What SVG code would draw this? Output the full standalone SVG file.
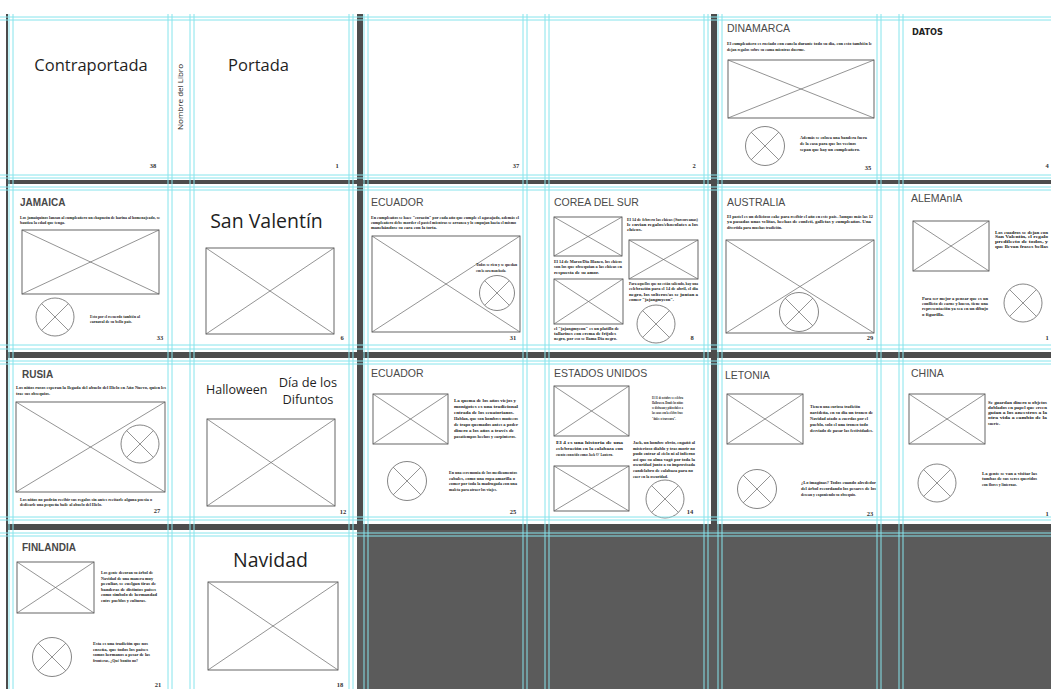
<svg xmlns="http://www.w3.org/2000/svg" width="1051" height="689" viewBox="0 0 1051 689">
<style>
.pg{fill:#ffffff}
.ph{fill:none;stroke:#555;stroke-width:0.9}
.xl{fill:none;stroke:#666;stroke-width:0.7}
.cc{fill:none;stroke:#666;stroke-width:0.8}
.big{font-family:"Open Sans","Liberation Sans",sans-serif;fill:#1f1f1f}
.t{font-family:"Liberation Sans",Arial,sans-serif;font-size:10.5px;fill:#4a4a4a}
.tb{font-family:"Liberation Sans",Arial,sans-serif;font-size:10px;font-weight:bold;fill:#484848}
.b{font-family:"Liberation Serif","Times New Roman",serif;font-size:4.6px;font-weight:bold;fill:#222}
.n{font-family:"Liberation Serif","Times New Roman",serif;font-size:6.5px;font-weight:bold;fill:#333;text-anchor:middle}
.g{stroke:#86e4ec;stroke-width:1;fill:none}
</style>
<rect x="0" y="0" width="1051" height="689" fill="#ffffff"/>
<rect x="6" y="14" width="1045" height="675" fill="#4c4c4c"/>
<rect x="357" y="530" width="694" height="159" fill="#5b5b5b"/>
<g id="spreads">
<rect class="pg" x="8" y="14" width="349" height="166"/>
<rect class="pg" x="363" y="14" width="348" height="166"/>
<rect class="pg" x="717" y="14" width="334" height="166"/>
<rect class="pg" x="8" y="184" width="349" height="168"/>
<rect class="pg" x="363" y="184" width="348" height="168"/>
<rect class="pg" x="717" y="184" width="334" height="168"/>
<rect class="pg" x="8" y="358" width="349" height="166"/>
<rect class="pg" x="363" y="358" width="348" height="166"/>
<rect class="pg" x="717" y="358" width="334" height="166"/>
<rect class="pg" x="8" y="530" width="349" height="159"/>
</g>

<g id="page-contraportada">
<text class="big" x="91" y="71" font-size="16.5" text-anchor="middle">Contraportada</text>
<text class="n" x="153" y="168">38</text>
</g>
<g id="spine">
<text class="big" transform="translate(183,97) rotate(-90)" font-size="6.8" text-anchor="middle" textLength="66" lengthAdjust="spacingAndGlyphs">Nombre del Libro</text>
</g>
<g id="page-portada">
<text class="big" x="258.5" y="71" font-size="16.5" text-anchor="middle">Portada</text>
<text class="n" x="337" y="168">1</text>
</g>
<g id="page-37"><text class="n" x="516" y="168">37</text></g>
<g id="page-2"><text class="n" x="694" y="168">2</text></g>

<g id="page-dinamarca">
<text class="t" x="727" y="32">DINAMARCA</text>
<text class="b" x="727" y="45" textLength="145" lengthAdjust="spacingAndGlyphs">El cumpleañero es rociado con canela durante todo su día, con esto también le</text>
<text class="b" x="727" y="51" textLength="78" lengthAdjust="spacingAndGlyphs">dejan regalos sobre su cama mientras duerme.</text>
<rect class="ph" x="728" y="60" width="146" height="58"/>
<path class="xl" d="M728,60 L874,118 M874,60 L728,118"/>
<circle class="cc" cx="765" cy="146" r="19.5"/>
<path class="xl" d="M751.2,132.2 L778.8,159.8 M778.8,132.2 L751.2,159.8"/>
<text class="b" x="800" y="139" textLength="67" lengthAdjust="spacingAndGlyphs">Además se coloca una bandera fuera</text>
<text class="b" x="800" y="145" textLength="56" lengthAdjust="spacingAndGlyphs">de la casa para que los vecinos</text>
<text class="b" x="800" y="151" textLength="60" lengthAdjust="spacingAndGlyphs">sepan que hay un cumpleañero.</text>
<text class="n" x="868" y="170">35</text>
</g>
<g id="page-datos">
<text x="912" y="35" font-family="DejaVu Sans,sans-serif" font-size="9.5" font-weight="bold" fill="#222" textLength="31" lengthAdjust="spacingAndGlyphs">DATOS</text>
<text class="n" x="1047" y="168">4</text>
</g>

<g id="page-jamaica">
<text class="tb" x="20" y="206">JAMAICA</text>
<text class="b" x="20" y="219" textLength="140" lengthAdjust="spacingAndGlyphs">Los jamaiquinos lanzan al cumpleañero un chapuzón de harina al homenajeado, se</text>
<text class="b" x="20" y="224" textLength="45" lengthAdjust="spacingAndGlyphs">bautiza la edad que tenga.</text>
<rect class="ph" x="22" y="230" width="137" height="64"/>
<path class="xl" d="M22,230 L159,294 M159,230 L22,294"/>
<circle class="cc" cx="55" cy="317" r="19"/>
<path class="xl" d="M41.6,303.6 L68.4,330.4 M68.4,303.6 L41.6,330.4"/>
<text class="b" x="90" y="318" textLength="50" lengthAdjust="spacingAndGlyphs">Esto por el recuerdo también al</text>
<text class="b" x="90" y="323" textLength="42" lengthAdjust="spacingAndGlyphs">carnaval de su bello país.</text>
<text class="n" x="160" y="340">33</text>
</g>
<g id="page-sanvalentin">
<text class="big" x="266.5" y="228" font-size="19.5" text-anchor="middle">San Valentín</text>
<rect class="ph" x="206" y="248" width="128" height="86"/>
<path class="xl" d="M206,248 L334,334 M334,248 L206,334"/>
<text class="n" x="342" y="340">6</text>
</g>
<g id="page-ecuador-31">
<text class="t" x="371" y="206">ECUADOR</text>
<text class="b" x="371" y="219" textLength="148" lengthAdjust="spacingAndGlyphs">En cumpleaños se hace "corazón" por cada año que cumple el agasajado, además el</text>
<text class="b" x="371" y="224" textLength="145" lengthAdjust="spacingAndGlyphs">cumpleañero debe morder el pastel mientras se arranca y lo empujan hacia el mismo</text>
<text class="b" x="371" y="229" textLength="66" lengthAdjust="spacingAndGlyphs">manchándose su cara con la torta.</text>
<rect class="ph" x="372" y="236" width="148" height="96"/>
<path class="xl" d="M372,236 L520,332 M520,236 L372,332"/>
<text class="b" x="476" y="266" textLength="41" lengthAdjust="spacingAndGlyphs">Todos se ríen y se quedan</text>
<text class="b" x="476" y="272" textLength="30" lengthAdjust="spacingAndGlyphs">con la cara manchada.</text>
<circle class="cc" cx="497" cy="293" r="17.5"/>
<path class="xl" d="M484.6,280.6 L509.4,305.4 M509.4,280.6 L484.6,305.4"/>
<text class="n" x="513" y="340">31</text>
</g>
<g id="page-corea">
<text class="t" x="554" y="206">COREA DEL SUR</text>
<rect class="ph" x="554" y="217" width="68" height="39"/>
<path class="xl" d="M554,217 L622,256 M622,217 L554,256"/>
<text class="b" x="627" y="221" textLength="71" lengthAdjust="spacingAndGlyphs">El 14 de febrero las chicas (Surcoreanas)</text>
<text class="b" x="627" y="226" textLength="71" lengthAdjust="spacingAndGlyphs">le envían regalos/chocolates a los</text>
<text class="b" x="627" y="231" textLength="15" lengthAdjust="spacingAndGlyphs">chicos.</text>
<rect class="ph" x="629" y="240" width="69" height="39"/>
<path class="xl" d="M629,240 L698,279 M698,240 L629,279"/>
<text class="b" x="554" y="263" textLength="68" lengthAdjust="spacingAndGlyphs">El 14 de Marzo/Día Blanco, los chicos</text>
<text class="b" x="554" y="268" textLength="68" lengthAdjust="spacingAndGlyphs">son los que obsequian a las chicas en</text>
<text class="b" x="554" y="274" textLength="45" lengthAdjust="spacingAndGlyphs">respuesta de su amor.</text>
<rect class="ph" x="554" y="279" width="69" height="45"/>
<path class="xl" d="M554,279 L623,324 M623,279 L554,324"/>
<text class="b" x="629" y="285" textLength="69" lengthAdjust="spacingAndGlyphs">Para aquellos que no están saliendo, hay una</text>
<text class="b" x="629" y="290" textLength="69" lengthAdjust="spacingAndGlyphs">celebración para el 14 de abril, el día</text>
<text class="b" x="629" y="296" textLength="69" lengthAdjust="spacingAndGlyphs">negro, los solteros/as se juntan a</text>
<text class="b" x="629" y="301" textLength="45" lengthAdjust="spacingAndGlyphs">comer "jajangmyeon".</text>
<circle class="cc" cx="656" cy="324" r="19"/>
<path class="xl" d="M642.6,310.6 L669.4,337.4 M669.4,310.6 L642.6,337.4"/>
<text class="b" x="554" y="330" textLength="65" lengthAdjust="spacingAndGlyphs">el "jajangmyeon" es un platillo de</text>
<text class="b" x="554" y="335" textLength="62" lengthAdjust="spacingAndGlyphs">tallarines con crema de frijoles</text>
<text class="b" x="554" y="340" textLength="63" lengthAdjust="spacingAndGlyphs">negro, por eso se llama Día negro.</text>
<text class="n" x="692" y="340">8</text>
</g>
<g id="page-australia">
<text class="t" x="727" y="206">AUSTRALIA</text>
<text class="b" x="727" y="218" textLength="146" lengthAdjust="spacingAndGlyphs">El pastel es un delicioso cake para recibir el año en este país. Aunque más las 12</text>
<text class="b" x="727" y="223" textLength="144" lengthAdjust="spacingAndGlyphs">ya pasadas unas velitas, hechas de confeti, galletas y cumpleaños. Una</text>
<text class="b" x="727" y="229" textLength="55" lengthAdjust="spacingAndGlyphs">divertida para muchas tradición.</text>
<rect class="ph" x="726" y="240" width="148" height="93"/>
<path class="xl" d="M726,240 L874,333 M874,240 L726,333"/>
<circle class="cc" cx="799" cy="312" r="19.5"/>
<path class="xl" d="M785.2,298.2 L812.8,325.8 M812.8,298.2 L785.2,325.8"/>
<text class="n" x="870" y="340">29</text>
</g>
<g id="page-alemania">
<text class="t" x="911" y="202">ALEMAnIA</text>
<rect class="ph" x="913" y="221" width="76" height="50"/>
<path class="xl" d="M913,221 L989,271 M989,221 L913,271"/>
<text class="b" x="995" y="234" textLength="53" lengthAdjust="spacingAndGlyphs">Los cuadros se dejan con</text>
<text class="b" x="995" y="238" textLength="53" lengthAdjust="spacingAndGlyphs">San Valentín, el regalo</text>
<text class="b" x="995" y="243" textLength="53" lengthAdjust="spacingAndGlyphs">predilecto de todos, y</text>
<text class="b" x="995" y="248" textLength="53" lengthAdjust="spacingAndGlyphs">que llevan frases bellas</text>
<text class="b" x="922" y="300" textLength="66" lengthAdjust="spacingAndGlyphs">Para ser mejor a pensar que es un</text>
<text class="b" x="922" y="305" textLength="66" lengthAdjust="spacingAndGlyphs">conflicto de carne y hueso, tiene una</text>
<text class="b" x="922" y="310" textLength="66" lengthAdjust="spacingAndGlyphs">representación ya sea en un dibujo</text>
<text class="b" x="922" y="316" textLength="22" lengthAdjust="spacingAndGlyphs">o figurilla.</text>
<circle class="cc" cx="1023" cy="303" r="19"/>
<path class="xl" d="M1009.6,289.6 L1036.4,316.4 M1036.4,289.6 L1009.6,316.4"/>
<text class="n" x="1047" y="340">1</text>
</g>

<g id="page-rusia">
<text class="tb" x="22" y="378">RUSIA</text>
<text class="b" x="16" y="389" textLength="150" lengthAdjust="spacingAndGlyphs">Los niños rusos esperan la llegada del abuelo del Hielo en Año Nuevo, quien les</text>
<text class="b" x="16" y="395" textLength="34" lengthAdjust="spacingAndGlyphs">trae sus obsequios.</text>
<rect class="ph" x="16" y="402" width="149" height="90"/>
<path class="xl" d="M16,402 L165,492 M165,402 L16,492"/>
<circle class="cc" cx="140" cy="444" r="19"/>
<path class="xl" d="M126.6,430.6 L153.4,457.4 M153.4,430.6 L126.6,457.4"/>
<text class="b" x="20" y="501" textLength="132" lengthAdjust="spacingAndGlyphs">Los niños no podrán recibir sus regalos sin antes recitarle alguna poesía o</text>
<text class="b" x="20" y="506" textLength="82" lengthAdjust="spacingAndGlyphs">dedicarle una pequeña baile al abuelo del Hielo.</text>
<text class="n" x="157" y="513">27</text>
</g>
<g id="page-halloween">
<text class="big" x="206" y="394" font-size="12.5">Halloween</text>
<text class="big" x="308" y="387" font-size="12.8" text-anchor="middle">Día de los</text>
<text class="big" x="308" y="404" font-size="12.8" text-anchor="middle">Difuntos</text>
<rect class="ph" x="207" y="419" width="128" height="87"/>
<path class="xl" d="M207,419 L335,506 M335,419 L207,506"/>
<text class="n" x="343" y="514">12</text>
</g>
<g id="page-ecuador-25">
<text class="t" x="371" y="377">ECUADOR</text>
<rect class="ph" x="373" y="394" width="75" height="50"/>
<path class="xl" d="M373,394 L448,444 M448,394 L373,444"/>
<text class="b" x="454" y="402" textLength="62" lengthAdjust="spacingAndGlyphs">La quema de los años viejos y</text>
<text class="b" x="454" y="408" textLength="64" lengthAdjust="spacingAndGlyphs">monigotes es una tradicional</text>
<text class="b" x="454" y="414" textLength="60" lengthAdjust="spacingAndGlyphs">entrada de los ecuatorianos.</text>
<text class="b" x="454" y="420" textLength="64" lengthAdjust="spacingAndGlyphs">Hablan, que son hombres muñecos</text>
<text class="b" x="454" y="426" textLength="64" lengthAdjust="spacingAndGlyphs">de trapo quemados antes a poder</text>
<text class="b" x="454" y="432" textLength="60" lengthAdjust="spacingAndGlyphs">dinero a los años a través de</text>
<text class="b" x="454" y="438" textLength="62" lengthAdjust="spacingAndGlyphs">pasatiempos hechos y carpinteros.</text>
<circle class="cc" cx="407" cy="481" r="19.5"/>
<path class="xl" d="M393.2,467.2 L420.8,494.8 M420.8,467.2 L393.2,494.8"/>
<text class="b" x="449" y="474" textLength="68" lengthAdjust="spacingAndGlyphs">En una ceremonia de los medicamentos</text>
<text class="b" x="449" y="480" textLength="66" lengthAdjust="spacingAndGlyphs">cabales, como una ropa amarilla o</text>
<text class="b" x="449" y="485" textLength="68" lengthAdjust="spacingAndGlyphs">comer por toda la madrugada con una</text>
<text class="b" x="449" y="491" textLength="48" lengthAdjust="spacingAndGlyphs">maleta para atraer los viajes.</text>
<text class="n" x="513" y="514">25</text>
</g>
<g id="page-eeuu">
<text class="t" x="554" y="377">ESTADOS UNIDOS</text>
<rect class="ph" x="554" y="386" width="75" height="50"/>
<path class="xl" d="M554,386 L629,436 M629,386 L554,436"/>
<text class="b" x="652" y="399" textLength="31" lengthAdjust="spacingAndGlyphs">El 31 de octubre se celebra</text>
<text class="b" x="652" y="404" textLength="31" lengthAdjust="spacingAndGlyphs">Halloween. Donde los niños</text>
<text class="b" x="652" y="409" textLength="31" lengthAdjust="spacingAndGlyphs">se disfrazan y piden dulces a</text>
<text class="b" x="652" y="414" textLength="31" lengthAdjust="spacingAndGlyphs">las casas con la célebre frase</text>
<text class="b" x="652" y="420" textLength="24" lengthAdjust="spacingAndGlyphs">"dulce o travesura".</text>
<text class="b" x="556" y="444" textLength="67" lengthAdjust="spacingAndGlyphs">El 4 es una historia de una</text>
<text class="b" x="556" y="450" textLength="67" lengthAdjust="spacingAndGlyphs">celebración en la calabaza con</text>
<text class="b" x="556" y="456" textLength="57" lengthAdjust="spacingAndGlyphs">cuento conocido como Jack O' Lantern.</text>
<rect class="ph" x="554" y="466" width="75" height="45"/>
<path class="xl" d="M554,466 L629,511 M629,466 L554,511"/>
<text class="b" x="633" y="444" textLength="62" lengthAdjust="spacingAndGlyphs">Jack, un hombre obvio, engañó al</text>
<text class="b" x="633" y="450" textLength="62" lengthAdjust="spacingAndGlyphs">misterioso diablo y tras morir no</text>
<text class="b" x="633" y="455" textLength="62" lengthAdjust="spacingAndGlyphs">pudo entrar al cielo ni al infierno</text>
<text class="b" x="633" y="461" textLength="62" lengthAdjust="spacingAndGlyphs">así que su alma vagó por toda la</text>
<text class="b" x="633" y="466" textLength="62" lengthAdjust="spacingAndGlyphs">oscuridad junto a su improvisada</text>
<text class="b" x="633" y="472" textLength="60" lengthAdjust="spacingAndGlyphs">candelabro de calabaza para no</text>
<text class="b" x="633" y="478" textLength="35" lengthAdjust="spacingAndGlyphs">caer en la oscuridad.</text>
<circle class="cc" cx="665" cy="499" r="19"/>
<path class="xl" d="M651.6,485.6 L678.4,512.4 M678.4,485.6 L651.6,512.4"/>
<text class="n" x="690" y="514">14</text>
</g>
<g id="page-letonia">
<text class="t" x="725" y="379">LETONIA</text>
<rect class="ph" x="727" y="394" width="76" height="50"/>
<path class="xl" d="M727,394 L803,444 M803,394 L727,444"/>
<text class="b" x="810" y="408" textLength="50" lengthAdjust="spacingAndGlyphs">Tienen una curiosa tradición</text>
<text class="b" x="810" y="414" textLength="63" lengthAdjust="spacingAndGlyphs">navideña, en su día un tronco de</text>
<text class="b" x="810" y="420" textLength="58" lengthAdjust="spacingAndGlyphs">Navidad atado a cuerdas por el</text>
<text class="b" x="810" y="426" textLength="58" lengthAdjust="spacingAndGlyphs">pueblo, solo el una tronco todo</text>
<text class="b" x="810" y="432" textLength="63" lengthAdjust="spacingAndGlyphs">desviado de pasar las festividades.</text>
<circle class="cc" cx="757" cy="489" r="19.5"/>
<path class="xl" d="M743.2,475.2 L770.8,502.8 M770.8,475.2 L743.2,502.8"/>
<text class="b" x="801" y="484" textLength="75" lengthAdjust="spacingAndGlyphs">¿Lo imaginas? Todos cuando alrededor</text>
<text class="b" x="801" y="490" textLength="75" lengthAdjust="spacingAndGlyphs">del árbol recordando los pesares de los</text>
<text class="b" x="801" y="496" textLength="55" lengthAdjust="spacingAndGlyphs">desean y exponiendo su obsequio.</text>
<text class="n" x="870" y="516">23</text>
</g>
<g id="page-china">
<text class="t" x="911" y="377">CHINA</text>
<rect class="ph" x="909" y="394" width="76" height="50"/>
<path class="xl" d="M909,394 L985,444 M985,394 L909,444"/>
<text class="b" x="988" y="404" textLength="59" lengthAdjust="spacingAndGlyphs">Se guardan dinero u objetos</text>
<text class="b" x="988" y="409" textLength="59" lengthAdjust="spacingAndGlyphs">doblados en papel que creen</text>
<text class="b" x="988" y="414" textLength="59" lengthAdjust="spacingAndGlyphs">guían a los ancestros a la</text>
<text class="b" x="988" y="419" textLength="59" lengthAdjust="spacingAndGlyphs">otra vida a cambio de la</text>
<text class="b" x="988" y="425" textLength="12" lengthAdjust="spacingAndGlyphs">suerte.</text>
<circle class="cc" cx="937" cy="483" r="19"/>
<path class="xl" d="M923.6,469.6 L950.4,496.4 M950.4,469.6 L923.6,496.4"/>
<text class="b" x="982" y="475" textLength="55" lengthAdjust="spacingAndGlyphs">La gente se van a visitar las</text>
<text class="b" x="982" y="480" textLength="55" lengthAdjust="spacingAndGlyphs">tumbas de sus seres queridos</text>
<text class="b" x="982" y="486" textLength="35" lengthAdjust="spacingAndGlyphs">con flores y linternas.</text>
<text class="n" x="1047" y="516">1</text>
</g>

<g id="page-finlandia">
<text class="tb" x="22" y="551">FINLANDIA</text>
<rect class="ph" x="17" y="562" width="77" height="51"/>
<path class="xl" d="M17,562 L94,613 M94,562 L17,613"/>
<text class="b" x="101" y="574" textLength="52" lengthAdjust="spacingAndGlyphs">Los gente decoran su árbol de</text>
<text class="b" x="101" y="580" textLength="52" lengthAdjust="spacingAndGlyphs">Navidad de una manera muy</text>
<text class="b" x="101" y="585" textLength="55" lengthAdjust="spacingAndGlyphs">peculiar, se cuelgan tiras de</text>
<text class="b" x="101" y="591" textLength="55" lengthAdjust="spacingAndGlyphs">banderas de distintos países</text>
<text class="b" x="101" y="596" textLength="56" lengthAdjust="spacingAndGlyphs">como símbolo de hermandad</text>
<text class="b" x="101" y="602" textLength="45" lengthAdjust="spacingAndGlyphs">entre pueblos y culturas.</text>
<circle class="cc" cx="52" cy="657" r="19.5"/>
<path class="xl" d="M38.2,643.2 L65.8,670.8 M65.8,643.2 L38.2,670.8"/>
<text class="b" x="93" y="645" textLength="55" lengthAdjust="spacingAndGlyphs">Esta es una tradición que nos</text>
<text class="b" x="93" y="651" textLength="55" lengthAdjust="spacingAndGlyphs">enseña, que todos los países</text>
<text class="b" x="93" y="656" textLength="57" lengthAdjust="spacingAndGlyphs">somos hermanos a pesar de las</text>
<text class="b" x="93" y="662" textLength="45" lengthAdjust="spacingAndGlyphs">fronteras, ¿Qué bonito no?</text>
<text class="n" x="158" y="687">21</text>
</g>
<g id="page-navidad">
<text class="big" x="270.5" y="567" font-size="19.5" text-anchor="middle">Navidad</text>
<rect class="ph" x="208" y="582" width="130" height="88"/>
<path class="xl" d="M208,582 L338,670 M338,582 L208,670"/>
<text class="n" x="340" y="687">18</text>
</g>

<g id="guides" class="g">
<path d="M9,14V689M13,14V689M168,14V689M172,14V689M190,14V689M194,14V689M349,14V689M353,14V689"/>
<path d="M364,14V689M368,14V689M523,14V689M527,14V689M545,14V689M549,14V689M704,14V689M708,14V689"/>
<path d="M718,14V689M722,14V689M877,14V689M881,14V689M899,14V689M903,14V689"/>
<path d="M0,17H1051M0,20H1051M0,175H1051M0,178H1051M0,187H1051M0,190H1051M0,345H1051M0,349H1051M0,361H1051M0,364H1051M0,517H1051M0,520H1051M0,533H1051M0,536H1051"/>
</g>
</svg>
